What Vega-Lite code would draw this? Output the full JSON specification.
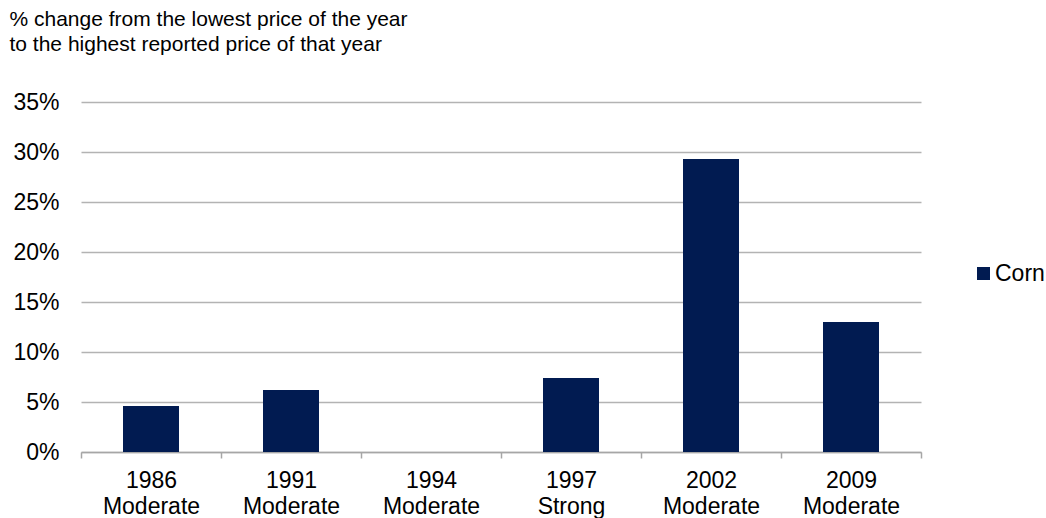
{
  "$schema": "https://vega.github.io/schema/vega-lite/v6.json",
  "autosize": "none",
  "width": 840,
  "height": 350,
  "padding": {"left": 81, "top": 102, "right": 125, "bottom": 66},
  "config": {
    "font": "Liberation Sans",
    "view": {"stroke": null},
    "axis": {"labelFont": "Liberation Sans", "titleFont": "Liberation Sans", "labelColor": "#000000", "titleColor": "#000000"}
  },
  "data": {
    "values": [
      {"year": "1986", "strength": "Moderate", "label": "1986 Moderate", "series": "Corn", "pct": 0.046},
      {"year": "1991", "strength": "Moderate", "label": "1991 Moderate", "series": "Corn", "pct": 0.062},
      {"year": "1994", "strength": "Moderate", "label": "1994 Moderate", "series": "Corn", "pct": 0.0},
      {"year": "1997", "strength": "Strong", "label": "1997 Strong", "series": "Corn", "pct": 0.074},
      {"year": "2002", "strength": "Moderate", "label": "2002 Moderate", "series": "Corn", "pct": 0.293},
      {"year": "2009", "strength": "Moderate", "label": "2009 Moderate", "series": "Corn", "pct": 0.130}
    ]
  },
  "mark": {"type": "bar", "width": {"band": 0.4}},
  "encoding": {
    "x": {
      "field": "label",
      "type": "nominal",
      "sort": null,
      "scale": {"paddingInner": 0, "paddingOuter": 0},
      "axis": {
        "title": null,
        "labelAngle": 0,
        "labelExpr": "split(datum.label, ' ')",
        "labelFontSize": 23,
        "labelLineHeight": 26,
        "labelPadding": 11,
        "tickBand": "extent",
        "ticks": true,
        "tickSize": 6,
        "tickColor": "#a6a6a6",
        "domainColor": "#a6a6a6",
        "domainWidth": 1.5,
        "tickWidth": 1.5,
        "grid": false
      }
    },
    "y": {
      "field": "pct",
      "type": "quantitative",
      "scale": {"domain": [0, 0.35], "nice": false},
      "axis": {
        "values": [0, 0.05, 0.1, 0.15, 0.2, 0.25, 0.3, 0.35],
        "format": ".0%",
        "labelFontSize": 23,
        "labelPadding": 22,
        "ticks": false,
        "domain": false,
        "grid": true,
        "gridColor": "#b3b3b3",
        "gridWidth": 1.5,
        "title": ["% change from the lowest price of the year", "to the highest reported price of that year"],
        "titleAngle": 0,
        "titleAlign": "left",
        "titleBaseline": "top",
        "titleX": -72,
        "titleY": -94,
        "titleFontSize": 21,
        "titleFontWeight": "normal",
        "titleLineHeight": 25
      }
    },
    "color": {
      "field": "series",
      "type": "nominal",
      "scale": {"range": ["#011b51"]},
      "legend": {
        "title": null,
        "orient": "none",
        "legendX": 891,
        "legendY": 160,
        "symbolType": "square",
        "symbolSize": 169,
        "labelFontSize": 23,
        "labelColor": "#000000",
        "labelOffset": 0,
        "labelFont": "Liberation Sans"
      }
    }
  }
}
